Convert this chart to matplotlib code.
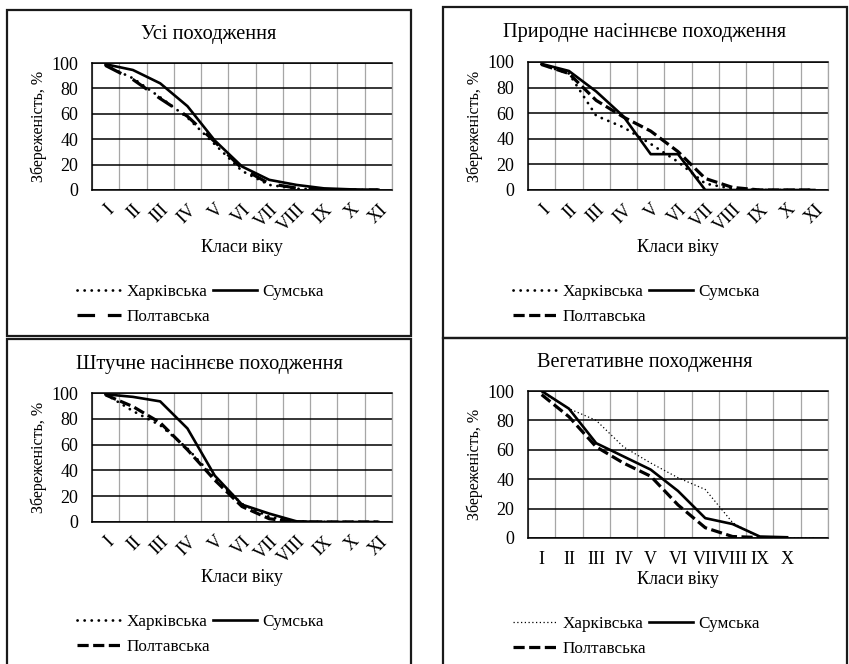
import numpy as np
import matplotlib
matplotlib.use('Agg')
import matplotlib.pyplot as plt
from matplotlib.patches import Rectangle

plt.rcParams['font.family'] = ['Liberation Serif', 'DejaVu Serif']

# age classes
classes = ['I', 'II', 'III', 'IV', 'V', 'VI', 'VII', 'VIII', 'IX', 'X', 'XI']
classes_veg = ['I', 'II', 'III', 'IV', 'V', 'VI', 'VII', 'VIII', 'IX', 'X', '']

# survival, % (Kharkiv / Sumy / Poltava)
all_kh = [98, 88, 73, 57, 36, 15, 4, 1, 0.3, 0, 0]
all_sum = [99, 94.5, 84, 66, 39, 18.5, 8, 4, 1.3, 0.5, 0.2]
all_pol = [98, 87, 72, 58, 38, 17, 5, 1.5, 0.3, 0, 0]

nat_kh = [98, 91, 58, 49, 36, 22, 5, 1, 0, 0, 0]
nat_sum = [98.5, 93, 77, 57.5, 28, 28, 0, 0, 0, 0, 0]
nat_pol = [98, 91, 70, 57, 46, 30, 9, 2, 0, 0, 0]

art_kh = [99, 86, 75, 57, 34, 14, 4, 0.5, 0, 0, 0]
art_sum = [99, 97, 93.5, 72.5, 36, 13.5, 6.5, 0.5, 0, 0, 0]
art_pol = [98.5, 89.5, 77, 56, 32.5, 12, 2.5, 0, 0, 0, 0]

veg_kh = [99, 88, 80, 62, 51, 41, 33, 10.5, 0, 0, 0]
veg_sum = [100, 88, 64.5, 55.5, 46.5, 32, 13.5, 9.5, 1, 0.5, np.nan]
veg_pol = [97.5, 82.5, 62, 51, 42, 22.5, 7, 1, 0.3, np.nan, np.nan]

titles = ['Усі походження', 'Природне насіннєве походження',
          'Штучне насіннєве походження', 'Вегетативне походження']
names = ['Харківська', 'Сумська', 'Полтавська']

W, H = 849, 664
fig = plt.figure(figsize=(W / 100, H / 100), dpi=100)


def fx(x):
    return x / W


def fy(y):
    return 1 - y / H


# panel frames (pixels): left, top, right, bottom
frames = [(7, 10, 411, 336), (443, 7, 847, 338), (7, 339, 411, 670), (443, 338, 847, 670)]
for l, t, r, b in frames:
    fig.patches.append(Rectangle((fx(l), fy(b)), fx(r - l), (b - t) / H, fill=False,
                                 lw=1.6, edgecolor='#1a1a1a', transform=fig.transFigure))

# plot areas (pixels): left, top, right, bottom
areas = [(92, 63, 392, 190), (528, 62, 828, 190), (92, 393, 392, 522), (528, 391, 828, 538)]
legend_rows = [284, 284, 614, 616]
xlabel_rows = [247, 247, 578, 580]

panels = [
    (all_kh, all_sum, all_pol, classes, True, (0, (5.5, 4))),
    (nat_kh, nat_sum, nat_pol, classes, True, (0, (3.5, 1.4))),
    (art_kh, art_sum, art_pol, classes, True, (0, (3.5, 1.4))),
    (veg_kh, veg_sum, veg_pol, classes_veg, False, (0, (3.5, 1.4))),
]

fs = 13
for i, (kh, sm, pl, labels, rotated, pol_dash) in enumerate(panels):
    l, t, r, b = areas[i]
    fl, ft, fr, fb = frames[i]
    ax = fig.add_axes([fx(l), fy(b), fx(r - l), (b - t) / H])
    x = np.arange(len(labels))

    if rotated:
        kh_style = dict(color='black', lw=2.0, linestyle=(0, (0.05, 2.5)),
                        dash_capstyle='round')
    else:
        kh_style = dict(color='black', lw=0.9, linestyle=(0, (1, 2)))
    ax.plot(x, kh, **kh_style, label=names[0])
    ax.plot(x, sm, color='black', lw=1.9, label=names[1])
    ax.plot(x, pl, color='black', lw=2.3, linestyle=pol_dash, label=names[2])

    ax.set_xlim(-0.5, len(labels) - 0.5)
    ax.set_ylim(0, 100)
    ax.set_yticks(np.arange(0, 101, 20))
    ax.set_xticks(x)
    ax.set_xticks(np.arange(-0.5, len(labels), 1), minor=True)
    ax.grid(axis='y', which='major', color='black', lw=1.1)
    ax.grid(axis='x', which='minor', color='#a6a6a6', lw=0.9)
    ax.set_axisbelow(True)
    ax.tick_params(which='both', length=0)
    ax.tick_params(axis='y', labelsize=fs, pad=10)
    if rotated:
        ax.set_xticklabels(labels, rotation=45, ha='right', va='top',
                           rotation_mode='anchor', fontsize=fs)
        ax.tick_params(axis='x', pad=8)
    else:
        ax.set_xticklabels(labels, fontsize=fs)
        ax.tick_params(axis='x', pad=9)
    for side in ['top', 'bottom', 'left']:
        ax.spines[side].set_color('black')
        ax.spines[side].set_linewidth(1.1)
    ax.spines['right'].set_color('#a6a6a6')
    ax.spines['right'].set_linewidth(0.9)

    # titles and axis labels
    fig.text(fx((fl + fr) / 2), fy(ft + 25), titles[i], fontsize=14.7,
             ha='center', va='center')
    fig.text(fx((l + r) / 2), fy(xlabel_rows[i]), 'Класи віку', fontsize=fs,
             ha='center', va='center')
    fig.text(fx(l - 53), fy((t + b) / 2), 'Збереженість, %', fontsize=11.5,
             rotation=90, ha='center', va='center')

    # legend: first row Kharkiv + Sumy, second row Poltava
    h = ax.get_lines()
    fig.legend([h[0], h[2], h[1]], [names[0], names[2], names[1]], ncol=2,
               loc='upper left', bbox_to_anchor=(fx(l - 15), fy(legend_rows[i])),
               frameon=False, fontsize=12.3, handlelength=2.6,
               handletextpad=0.3, columnspacing=0.15, labelspacing=0.55,
               borderpad=0, borderaxespad=0)

fig.savefig('out.png', dpi=100)
